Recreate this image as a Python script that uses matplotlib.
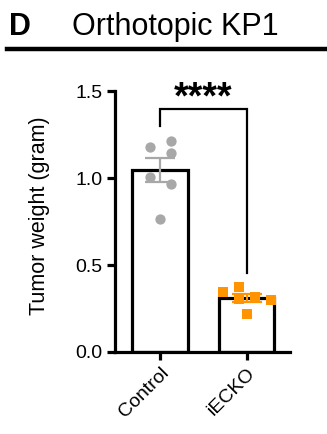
import numpy as np
import matplotlib
matplotlib.use('Agg')
import matplotlib.pyplot as plt

plt.rcParams['font.family'] = ['Liberation Sans', 'DejaVu Sans']

# groups and individual tumor weights
groups = ['Control', 'iECKO']
control_w = [1.18, 1.214, 1.145, 1.008, 0.966, 0.763]
iecko_w = [0.343, 0.375, 0.303, 0.318, 0.299, 0.218]
# horizontal jitter of the dots (as in the picture)
control_dx = [-0.12, 0.12, 0.12, -0.12, 0.12, 0.0]
iecko_dx = [-0.27, -0.09, -0.09, 0.09, 0.28, 0.0]

gray = '#a8a8a8'
orange = '#ff9400'

fig = plt.figure(figsize=(3.27, 4.34), dpi=100)
ax = fig.add_axes([0.352, 0.189, 0.535, 0.601])

data = [control_w, iecko_w]
colors = [gray, orange]
markers = ['o', 's']
jitters = [control_dx, iecko_dx]
for i, vals in enumerate(data):
    vals = np.array(vals)
    mean = vals.mean()
    sem = vals.std(ddof=1) / np.sqrt(len(vals))
    ax.bar(i, mean, width=0.64, color='white', edgecolor='black', linewidth=2.3, zorder=1)
    ax.scatter(i + np.array(jitters[i]), vals, s=55, marker=markers[i], color=colors[i],
               linewidths=0, zorder=2, clip_on=False)
    ax.errorbar(i, mean, yerr=sem, color=colors[i], capsize=10.5, elinewidth=1.6,
                capthick=1.6, zorder=3)

# significance bracket
ax.plot([0, 0, 1, 1], [1.30, 1.395, 1.395, 0.455], color='black', lw=1.6,
        clip_on=False, solid_joinstyle='miter')
ax.text(0.5, 1.455, '****', ha='center', va='center', fontsize=27, fontweight='bold',
        clip_on=False)

ax.set_xlim(-0.52, 1.5)
ax.set_ylim(0, 1.5)
ax.set_yticks([0.0, 0.5, 1.0, 1.5])
ax.set_yticklabels(['0.0', '0.5', '1.0', '1.5'], fontsize=14)
ax.set_xticks([0, 1])
ax.set_xticklabels(groups, rotation=45, ha='right', rotation_mode='anchor', fontsize=14)
ax.set_ylabel('Tumor weight (gram)', fontsize=15.5)
ax.yaxis.set_label_coords(-0.371, 0.523)

for side in ['top', 'right']:
    ax.spines[side].set_visible(False)
for side in ['left', 'bottom']:
    ax.spines[side].set_linewidth(2.3)
ax.tick_params(axis='both', width=2.3, length=6, pad=3)

# panel header
fig.text(0.028, 0.937, 'D', fontsize=22, fontweight='bold', va='center', ha='left')
fig.text(0.22, 0.937, 'Orthotopic KP1', fontsize=22, va='center', ha='left')
fig.add_artist(plt.Line2D([0.022, 1.0], [0.887, 0.887], color='black', lw=3.2))

fig.savefig('out.png', dpi=100)
